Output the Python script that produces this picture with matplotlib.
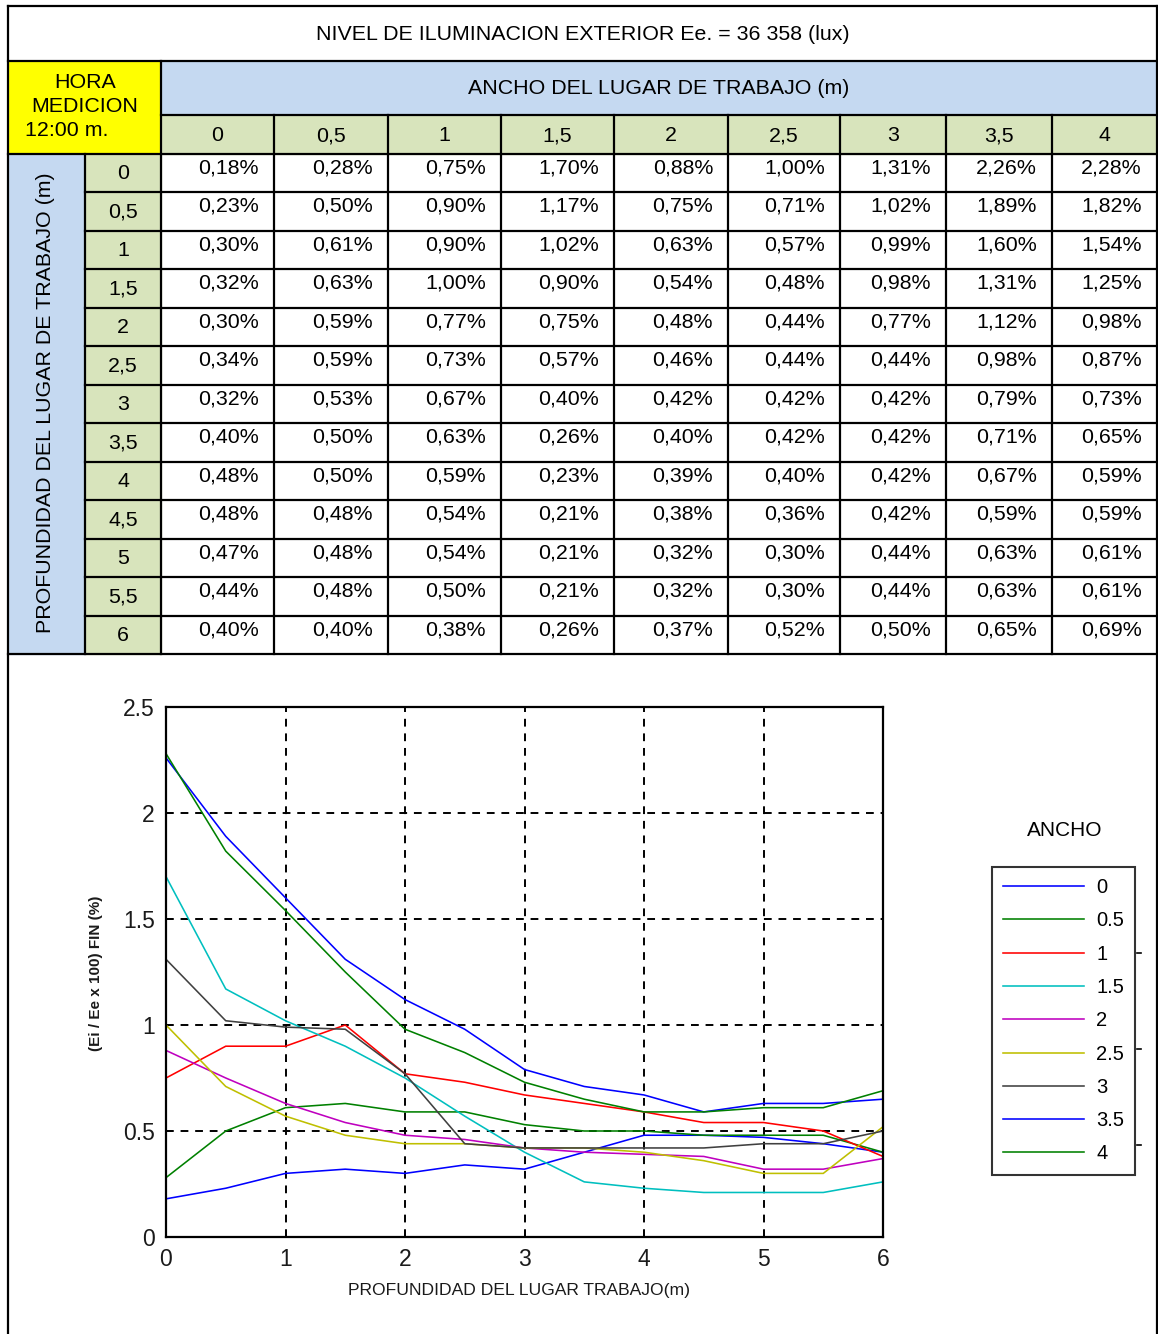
import matplotlib
matplotlib.use("Agg")
import matplotlib.pyplot as plt
from matplotlib.patches import Rectangle
from matplotlib.lines import Line2D
from matplotlib.ticker import FormatStrFormatter

plt.rcParams['font.family'] = ['Liberation Sans', 'DejaVu Sans']

# ---------------- data ----------------
titulo = "NIVEL DE ILUMINACION EXTERIOR Ee. = 36 358 (lux)"
hora_lineas = ["HORA", "MEDICION"]
hora_valor = "12:00 m."
encabezado_ancho = "ANCHO DEL LUGAR DE TRABAJO (m)"
etiqueta_prof = "PROFUNDIDAD DEL LUGAR DE TRABAJO (m)"
xlabel_txt = "PROFUNDIDAD DEL LUGAR TRABAJO(m)"
ylabel_txt = "(Ei / Ee x 100) FIN (%)"
leyenda_titulo = "ANCHO"

anchos = [0, 0.5, 1, 1.5, 2, 2.5, 3, 3.5, 4]
profundidades = [0, 0.5, 1, 1.5, 2, 2.5, 3, 3.5, 4, 4.5, 5, 5.5, 6]

fin_a0 = [0.18, 0.23, 0.30, 0.32, 0.30, 0.34, 0.32, 0.40, 0.48, 0.48, 0.47, 0.44, 0.40]
fin_a05 = [0.28, 0.50, 0.61, 0.63, 0.59, 0.59, 0.53, 0.50, 0.50, 0.48, 0.48, 0.48, 0.40]
fin_a1 = [0.75, 0.90, 0.90, 1.00, 0.77, 0.73, 0.67, 0.63, 0.59, 0.54, 0.54, 0.50, 0.38]
fin_a15 = [1.70, 1.17, 1.02, 0.90, 0.75, 0.57, 0.40, 0.26, 0.23, 0.21, 0.21, 0.21, 0.26]
fin_a2 = [0.88, 0.75, 0.63, 0.54, 0.48, 0.46, 0.42, 0.40, 0.39, 0.38, 0.32, 0.32, 0.37]
fin_a25 = [1.00, 0.71, 0.57, 0.48, 0.44, 0.44, 0.42, 0.42, 0.40, 0.36, 0.30, 0.30, 0.52]
fin_a3 = [1.31, 1.02, 0.99, 0.98, 0.77, 0.44, 0.42, 0.42, 0.42, 0.42, 0.44, 0.44, 0.50]
fin_a35 = [2.26, 1.89, 1.60, 1.31, 1.12, 0.98, 0.79, 0.71, 0.67, 0.59, 0.63, 0.63, 0.65]
fin_a4 = [2.28, 1.82, 1.54, 1.25, 0.98, 0.87, 0.73, 0.65, 0.59, 0.59, 0.61, 0.61, 0.69]

series = [fin_a0, fin_a05, fin_a1, fin_a15, fin_a2, fin_a25, fin_a3, fin_a35, fin_a4]
colores = ['#0000ff', '#008000', '#ff0000', '#00bfbf', '#bf00bf', '#bfbf00',
           '#404040', '#0000ff', '#008000']

# ---------------- layout ----------------
W, H = 1158, 1334
fig = plt.figure(figsize=(W / 100, H / 100), dpi=100)
fig.patch.set_facecolor('white')

ov = fig.add_axes([0, 0, 1, 1])
ov.set_xlim(0, W)
ov.set_ylim(H, 0)
ov.axis('off')

def comma(v):
    s = f"{v:g}"
    return s.replace('.', ',')

FS = 15.4
LW = 1.6
X0, X1, XR = 8, 85, 161
XE = 1157
col_x = [161, 274, 388, 501, 614, 728, 840, 946, 1052, 1157]
Y_TOP, Y_T1, Y_T2, Y_T3, Y_BOT = 6, 61, 115, 154, 654
nrow = len(profundidades)
row_h = (Y_BOT - Y_T3) / nrow
row_y = [Y_T3 + i * row_h for i in range(nrow + 1)]

# backgrounds
ov.add_patch(Rectangle((X0, Y_T1), XR - X0, Y_T3 - Y_T1, color='#ffff00', zorder=0))
ov.add_patch(Rectangle((XR, Y_T1), XE - XR, Y_T2 - Y_T1, color='#c5d9f1', zorder=0))
ov.add_patch(Rectangle((XR, Y_T2), XE - XR, Y_T3 - Y_T2, color='#d8e4bc', zorder=0))
ov.add_patch(Rectangle((X0, Y_T3), X1 - X0, Y_BOT - Y_T3, color='#c5d9f1', zorder=0))
ov.add_patch(Rectangle((X1, Y_T3), XR - X1, Y_BOT - Y_T3, color='#d8e4bc', zorder=0))

def hl(y, xa, xb):
    ov.add_line(Line2D([xa, xb], [y, y], color='k', lw=LW, zorder=3))

def vl(x, ya, yb):
    ov.add_line(Line2D([x, x], [ya, yb], color='k', lw=LW, zorder=3))

# outer frame
hl(Y_TOP, X0, XE)
vl(X0, Y_TOP, H)
vl(XE, Y_TOP, H)
hl(Y_T1, X0, XE)
hl(Y_T2, XR, XE)
hl(Y_T3, X0, XE)
for y in row_y[1:-1]:
    hl(y, X1, XE)
hl(Y_BOT, X0, XE)
vl(X1, Y_T3, Y_BOT)
vl(XR, Y_T1, Y_BOT)
for x in col_x[1:-1]:
    vl(x, Y_T2, Y_BOT)

# texts
ov.text(583, (Y_TOP + Y_T1) / 2 + 1, titulo, ha='center', va='center', fontsize=FS)
ov.text(85, 82, hora_lineas[0], ha='center', va='center', fontsize=FS)
ov.text(85, 107, hora_lineas[1], ha='center', va='center', fontsize=FS)
ov.text(25, 131, hora_valor, ha='left', va='center', fontsize=FS)
ov.text(659, (Y_T1 + Y_T2) / 2 + 1, encabezado_ancho, ha='center', va='center', fontsize=FS)
for j, a in enumerate(anchos):
    ov.text((col_x[j] + col_x[j + 1]) / 2, (Y_T2 + Y_T3) / 2 + 1, comma(a),
            ha='center', va='center', fontsize=FS)
ov.text(46, (Y_T3 + Y_BOT) / 2 - 1, etiqueta_prof, rotation=90,
        ha='center', va='center', fontsize=FS)
for i, p in enumerate(profundidades):
    ov.text((X1 + XR) / 2, row_y[i] + row_h / 2 + 0.5, comma(p),
            ha='center', va='center', fontsize=FS)
    for j, s in enumerate(series):
        ov.text(col_x[j + 1] - 15, row_y[i] + 14, f"{s[i]:.2f}%".replace('.', ','),
                ha='right', va='center', fontsize=FS)

# ---------------- chart ----------------
ax = fig.add_axes([166 / W, 1 - 1237 / H, (883 - 166) / W, (1237 - 707) / H])
handles = []
for s, c, a in zip(series, colores, anchos):
    h, = ax.plot(profundidades, s, color=c, lw=1.15, label=f"{a:g}")
    handles.append(h)
ax.set_xlim(0, 6)
ax.set_ylim(0, 2.5)
ax.set_xticks(range(0, 7))
ax.set_yticks([0, 0.5, 1, 1.5, 2, 2.5])
ax.yaxis.set_major_formatter(FormatStrFormatter('%g'))
ax.grid(True, color='k', ls=(0, (4, 3.5)), lw=1.4)
for sp in ax.spines.values():
    sp.set_linewidth(1.6)
ax.tick_params(direction='in', length=5, width=1.2, labelsize=16.5, pad=8,
               labelcolor='#1a1a1a')

fig.text(96 / W, 1 - 973 / H, ylabel_txt, rotation=90, ha='center', va='center',
         fontsize=11, fontweight='bold', color='#1a1a1a')
fig.text(519 / W, 1 - 1290 / H, xlabel_txt, ha='center', va='center',
         fontsize=12.6, color='#1a1a1a')

leg = ax.legend(handles=handles, loc='upper left',
                bbox_to_anchor=(992 / W, 1 - 867 / H), bbox_transform=fig.transFigure,
                frameon=True, fancybox=False, edgecolor='k', borderaxespad=0,
                fontsize=14.5, handlelength=4.0, handletextpad=0.62,
                labelspacing=0.71, borderpad=0.55)
leg.get_frame().set_linewidth(1.5)
fig.text(1065 / W, 1 - 830 / H, leyenda_titulo, ha='center', va='center', fontsize=15)
for yy in (953, 1049, 1145):
    ov.add_line(Line2D([1137, 1141], [yy, yy], color='k', lw=1.2))

fig.savefig('out.png', dpi=100, facecolor='white')
